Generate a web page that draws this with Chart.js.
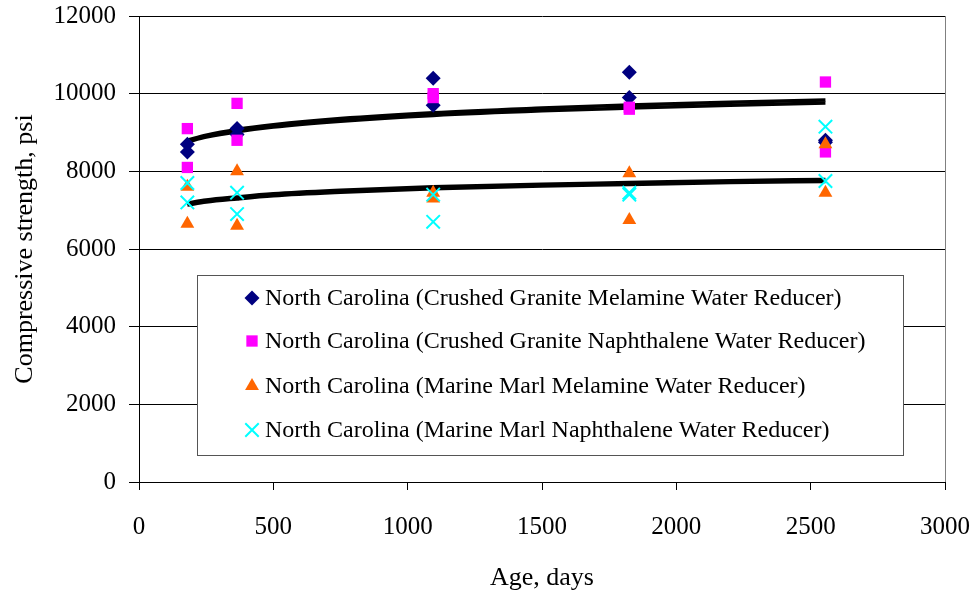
<!DOCTYPE html>
<html lang="en">
<head>
    <meta charset="UTF-8">
    <title>Compressive Strength vs Age</title>
    <style>
        body {
            margin: 0;
            background-color: #fff;
        }

        .chart-box {
            width: 977px;
            height: 598px;
        }
    </style>
</head>
<body>
    <div class="chart-box">
        <canvas id="strength-chart" width="977" height="598"></canvas>
    </div>

    <script src="https://cdn.jsdelivr.net/npm/chart.js"></script>
    <script>
        // Test ages (days) and two cylinders per mix at each age
        const ages = [180, 365, 1095, 1825, 2555];
        const graniteMelamine = [[8700, 8500], [9100, 8950], [10400, 9700], [10550, 9900], [8800, 8750]];
        const graniteNaphthalene = [[9100, 8100], [9750, 8800], [10000, 9900], [9650, 9600], [10300, 8500]];
        const marlMelamine = [[7600, 6650], [8000, 6600], [7450, 7300], [7950, 6750], [8700, 7450]];
        const marlNaphthalene = [[7700, 7200], [7450, 6900], [7400, 6700], [7450, 7400], [9150, 7750]];

        // Logarithmic trend lines (crushed granite pair on top, marine marl pair below)
        const trendAges = [180, 250, 365, 500, 750, 1095, 1500, 1825, 2200, 2555];
        const trendGraniteA = [8800, 8930, 9080, 9200, 9360, 9510, 9630, 9710, 9780, 9840];
        const trendGraniteB = [8760, 8880, 9020, 9140, 9290, 9440, 9560, 9630, 9700, 9760];
        const trendMarlA = [7180, 7260, 7340, 7420, 7510, 7600, 7670, 7710, 7760, 7790];
        const trendMarlB = [7130, 7210, 7290, 7370, 7460, 7550, 7620, 7660, 7710, 7740];

        const xTicks = [0, 500, 1000, 1500, 2000, 2500, 3000];
        const yTicks = [0, 2000, 4000, 6000, 8000, 10000, 12000];

        const serif = '"Liberation Serif", "Times New Roman", serif';

        function toPoints(values) {
            const pts = [];
            ages.forEach(function (age, i) {
                values[i].forEach(function (v) {
                    pts.push({ x: age, y: v });
                });
            });
            return pts;
        }

        function trend(values) {
            return trendAges.map(function (age, i) {
                return { x: age, y: values[i] };
            });
        }

        function trendSet(values) {
            return {
                label: '',
                data: trend(values),
                showLine: true,
                borderColor: '#000',
                borderWidth: 3.5,
                pointRadius: 0,
                cubicInterpolationMode: 'monotone',
                order: 10,
                inLegend: false
            };
        }

        const datasets = [
            {
                label: 'North Carolina (Crushed Granite Melamine Water Reducer)',
                data: toPoints(graniteMelamine),
                pointStyle: 'rectRot',
                pointRadius: 7.5,
                backgroundColor: '#000080',
                borderColor: '#000080',
                borderWidth: 0,
                order: 4
            },
            {
                label: 'North Carolina (Crushed Granite Naphthalene Water Reducer)',
                data: toPoints(graniteNaphthalene),
                pointStyle: 'rect',
                pointRadius: 8,
                backgroundColor: '#ff00ff',
                borderColor: '#ff00ff',
                borderWidth: 0,
                order: 3
            },
            {
                label: 'North Carolina (Marine Marl Melamine Water Reducer)',
                data: toPoints(marlMelamine),
                pointStyle: 'triangle',
                pointRadius: 8,
                backgroundColor: '#ff6600',
                borderColor: '#ff6600',
                borderWidth: 0,
                order: 2
            },
            {
                label: 'North Carolina (Marine Marl Naphthalene Water Reducer)',
                data: toPoints(marlNaphthalene),
                pointStyle: 'crossRot',
                pointRadius: 9.5,
                backgroundColor: '#00ffff',
                borderColor: '#00ffff',
                borderWidth: 2,
                order: 1
            },
            trendSet(trendGraniteA),
            trendSet(trendGraniteB),
            trendSet(trendMarlA),
            trendSet(trendMarlB)
        ];

        // Right-hand plot border plus the boxed legend inside the plot
        const frameAndLegend = {
            id: 'frameAndLegend',
            afterDatasetsDraw: function (chart) {
                const ctx = chart.ctx;
                const area = chart.chartArea;
                ctx.save();
                ctx.strokeStyle = '#808080';
                ctx.lineWidth = 1;
                ctx.beginPath();
                ctx.moveTo(area.right + 0.5, area.top);
                ctx.lineTo(area.right + 0.5, area.bottom);
                ctx.stroke();

                // legend box
                const box = { left: 197, top: 275, right: 903, bottom: 455 };
                ctx.fillStyle = '#fff';
                ctx.fillRect(box.left, box.top, box.right - box.left, box.bottom - box.top);
                ctx.strokeStyle = '#555';
                ctx.strokeRect(box.left + 0.5, box.top + 0.5, box.right - box.left, box.bottom - box.top);

                const rows = [298, 341, 386, 430];
                ctx.font = '24px ' + serif;
                ctx.textBaseline = 'middle';
                ctx.textAlign = 'left';
                chart.data.datasets.forEach(function (ds, i) {
                    if (ds.inLegend === false) return;
                    const y = rows[i];
                    ctx.fillStyle = ds.backgroundColor;
                    ctx.strokeStyle = ds.borderColor;
                    ctx.lineWidth = ds.borderWidth;
                    Chart.helpers.drawPoint(ctx, {
                        pointStyle: ds.pointStyle,
                        radius: ds.pointRadius,
                        borderWidth: ds.borderWidth
                    }, 252, y);
                    ctx.fillStyle = '#000';
                    ctx.fillText(ds.label, 265, y + 1);
                });
                ctx.restore();
            }
        };

        const ctx = document.getElementById('strength-chart').getContext('2d');
        new Chart(ctx, {
            type: 'scatter',
            data: { datasets: datasets },
            options: {
                responsive: false,
                animation: false,
                layout: {
                    padding: { left: 0, top: 16, right: 32, bottom: 0 }
                },
                plugins: {
                    legend: { display: false },
                    tooltip: { enabled: false }
                },
                scales: {
                    x: {
                        type: 'linear',
                        min: 0,
                        max: 3000,
                        afterBuildTicks: function (scale) {
                            scale.ticks = xTicks.map(function (v) { return { value: v }; });
                        },
                        afterFit: function (scale) {
                            scale.height = 116;
                            scale.paddingLeft = 0;
                            scale.paddingRight = 0;
                        },
                        ticks: {
                            color: '#000',
                            font: { family: serif, size: 25 },
                            padding: 22,
                            maxRotation: 0,
                            callback: function (v) { return String(v); }
                        },
                        grid: {
                            drawOnChartArea: false,
                            drawTicks: true,
                            tickLength: 8,
                            color: '#000'
                        },
                        border: { color: '#000', width: 1 },
                        title: {
                            display: true,
                            text: 'Age, days',
                            color: '#000',
                            font: { family: serif, size: 26 },
                            padding: { top: 0, bottom: 4 }
                        }
                    },
                    y: {
                        type: 'linear',
                        min: 0,
                        max: 12000,
                        afterBuildTicks: function (scale) {
                            scale.ticks = yTicks.map(function (v) { return { value: v }; });
                        },
                        afterFit: function (scale) {
                            scale.width = 139;
                            scale.paddingTop = 0;
                            scale.paddingBottom = 0;
                        },
                        ticks: {
                            color: '#000',
                            font: { family: serif, size: 25 },
                            padding: 13,
                            callback: function (v) { return String(v); }
                        },
                        grid: {
                            color: '#000',
                            lineWidth: 1,
                            drawTicks: true,
                            tickLength: 10
                        },
                        border: { color: '#000', width: 1 },
                        title: {
                            display: true,
                            text: 'Compressive strength, psi',
                            color: '#000',
                            font: { family: serif, size: 26 },
                            padding: { top: 10, bottom: 0 }
                        }
                    }
                }
            },
            plugins: [frameAndLegend]
        });
    </script>
</body>
</html>
